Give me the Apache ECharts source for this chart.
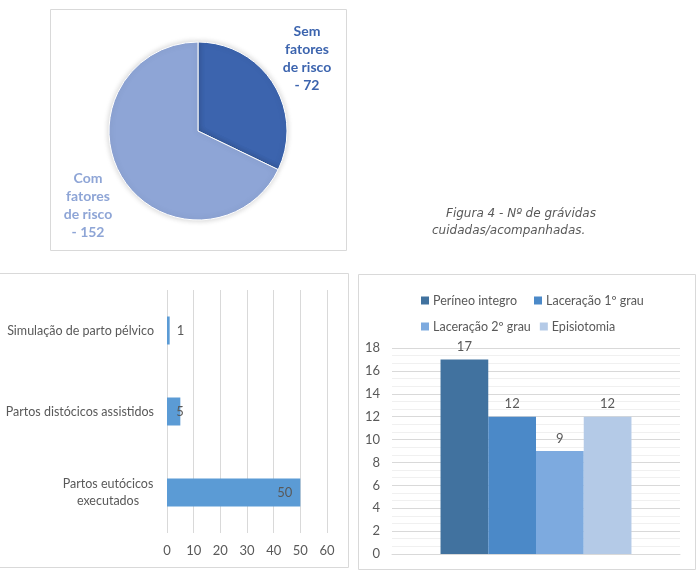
<!DOCTYPE html>
<html>
<head>
<meta charset="utf-8">
<script src="https://cdn.jsdelivr.net/npm/echarts@6/dist/echarts.min.js"></script>
<style>
  html, body { margin: 0; padding: 0; background: #fff; }
  #main { width: 699px; height: 575px; }
</style>
</head>
<body>
<div id="main"></div>
<script>
// pie - grávidas
var pieNames = ['Sem fatores de risco', 'Com fatores de risco'];
var pieValues = [72, 152];

// horizontal bars - partos
var partosCats = ['Partos eutócicos executados', 'Partos distócicos assistidos', 'Simulação de parto pélvico'];
var partosValues = [50, 5, 1];
var partosTicks = [0, 10, 20, 30, 40, 50, 60];

// column chart - períneo
var perineoSeries = ['Períneo integro', 'Laceração 1º grau', 'Laceração 2º grau', 'Episiotomia'];
var perineoValues = [17, 12, 9, 12];

var font = 'Lato';
var grey = '#595959';
var pieColors = ['#3C64AE', '#8EA5D6'];
var perineoColors = ['#41729F', '#4B89C8', '#7DAADF', '#B4CAE7'];

var chart = echarts.init(document.getElementById('main'));

var pieData = [];
for (var i = 0; i < pieNames.length; i++) {
    pieData.push({
        name: pieNames[i],
        value: pieValues[i],
        itemStyle: { color: pieColors[i] },
        label: { color: pieColors[i] }
    });
}

var perineoBars = [];
for (var j = 0; j < perineoSeries.length; j++) {
    perineoBars.push({
        name: perineoSeries[j],
        type: 'bar',
        xAxisIndex: 1,
        yAxisIndex: 1,
        data: [perineoValues[j]],
        barGap: '0%',
        barCategoryGap: '33.7%',
        itemStyle: { color: perineoColors[j] },
        label: { show: true, position: 'top', distance: 6, color: grey, fontFamily: font, fontSize: 13 }
    });
}

var option = {
    animation: false,
    textStyle: { fontFamily: font },
    graphic: [
        { type: 'rect', shape: { x: 50.5, y: 9.5, width: 296, height: 241 }, style: { fill: 'none', stroke: '#d9d9d9', lineWidth: 1 } },
        { type: 'rect', shape: { x: -1.5, y: 273.5, width: 350, height: 294 }, style: { fill: 'none', stroke: '#d9d9d9', lineWidth: 1 } },
        { type: 'rect', shape: { x: 358.5, y: 274.5, width: 337, height: 295 }, style: { fill: 'none', stroke: '#d9d9d9', lineWidth: 1 } },
        { type: 'text', x: 446, y: 208, style: { text: 'Figura 4 - Nº de grávidas', fill: grey, font: 'italic 12px "DejaVu Sans"' } },
        { type: 'text', x: 432, y: 225, style: { text: 'cuidadas/acompanhadas.', fill: grey, font: 'italic 12px "DejaVu Sans"' } }
    ],
    legend: [
        {
            data: perineoSeries.slice(0, 2),
            left: 416, top: 289,
            icon: 'rect', itemWidth: 8, itemHeight: 8, itemGap: 17,
            textStyle: { color: grey, fontFamily: font, fontSize: 12.5, padding: [0, 0, 0, -1] }
        },
        {
            data: perineoSeries.slice(2, 4),
            left: 416, top: 315,
            icon: 'rect', itemWidth: 8, itemHeight: 8, itemGap: 9,
            textStyle: { color: grey, fontFamily: font, fontSize: 12.5, padding: [0, 0, 0, -1] }
        }
    ],
    grid: [
        { left: 167, top: 290, width: 160, height: 243 },
        { left: 392, top: 348, width: 288, height: 206 }
    ],
    xAxis: [
        {
            gridIndex: 0,
            type: 'value',
            min: partosTicks[0],
            max: partosTicks[partosTicks.length - 1],
            interval: 10,
            axisLine: { show: false },
            axisTick: { show: false },
            axisLabel: { color: grey, fontSize: 13, margin: 11 },
            splitLine: { lineStyle: { color: '#d9d9d9' } }
        },
        {
            gridIndex: 1,
            type: 'category',
            data: [''],
            axisLine: { lineStyle: { color: '#d9d9d9' } },
            axisTick: { show: false },
            axisLabel: { show: false }
        }
    ],
    yAxis: [
        {
            gridIndex: 0,
            type: 'category',
            data: partosCats,
            axisLine: { show: false },
            axisTick: { show: false },
            axisLabel: {
                color: grey, fontSize: 12.5, margin: 13,
                formatter: function (v) {
                    if (v === 'Partos eutócicos executados') {
                        return '{c|Partos eutócicos}\n{c|executados}';
                    }
                    return v;
                },
                rich: { c: { width: 92, align: 'center', color: grey, fontSize: 12.5, lineHeight: 17 } }
            }
        },
        {
            gridIndex: 1,
            type: 'value',
            min: 0,
            max: 18,
            interval: 2,
            axisLine: { show: false },
            axisTick: { show: false },
            axisLabel: { color: grey, fontSize: 13, margin: 12 },
            splitLine: { lineStyle: { color: '#d9d9d9' } },
            minorTick: { show: false, splitNumber: 3 },
            minorSplitLine: { show: true, lineStyle: { color: '#f0f0f0' } }
        }
    ],
    series: [
        {
            type: 'pie',
            center: [198, 131],
            radius: 89,
            startAngle: 90,
            clockwise: true,
            data: pieData,
            itemStyle: { borderColor: '#fff', borderWidth: 1, shadowBlur: 6, shadowColor: 'rgba(0,0,0,0.2)' },
            label: {
                show: true,
                position: 'outside',
                fontFamily: font,
                fontWeight: 'bold',
                fontSize: 14,
                lineHeight: 18,
                align: 'center',
                formatter: function (p) {
                    return p.name.replace(' fatores ', '\nfatores\n') + '\n- ' + p.value;
                }
            },
            labelLine: { show: false },
            labelLayout: function (p) {
                // Excel "best fit" spots
                if (p.dataIndex === 0) return { x: 307, y: 58, align: 'center', verticalAlign: 'middle' };
                return { x: 88, y: 205, align: 'center', verticalAlign: 'middle' };
            }
        },
        {
            type: 'bar',
            xAxisIndex: 0,
            yAxisIndex: 0,
            barWidth: 28,
            itemStyle: { color: '#5B9BD5' },
            label: { show: true, position: 'insideRight', distance: 8, color: grey, fontFamily: font, fontSize: 13 },
            data: [
                partosValues[0],
                { value: partosValues[1], label: { position: 'right', distance: -4 } },
                { value: partosValues[2], label: { position: 'right', distance: 7 } }
            ]
        }
    ].concat(perineoBars)
};

chart.setOption(option);
</script>
</body>
</html>
